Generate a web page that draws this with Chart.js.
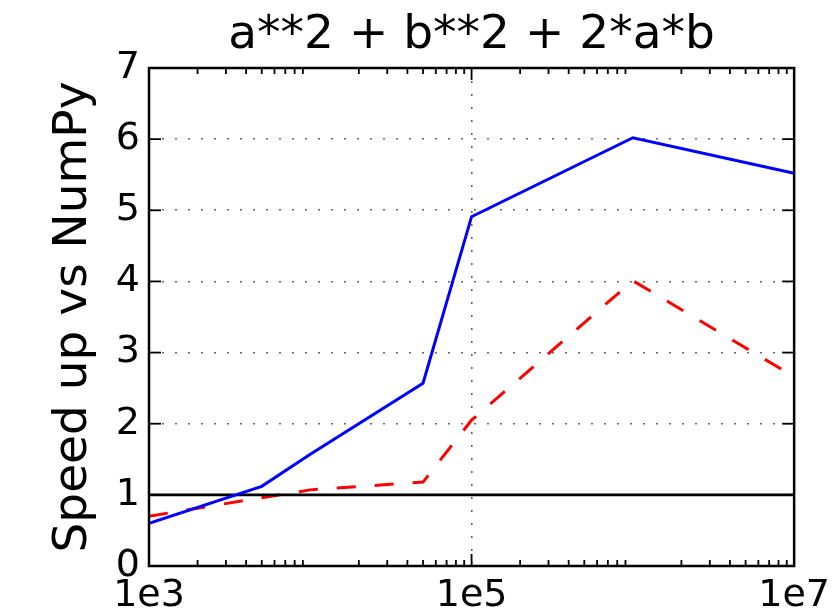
<!DOCTYPE html>
<html><head><meta charset="utf-8">
<script src="https://cdn.jsdelivr.net/npm/chart.js@4.4.1/dist/chart.umd.min.js"></script>
<style>html,body{margin:0;padding:0;background:#fff;} #wrap{width:837px;height:614px;}</style>
</head><body><div id="wrap"><canvas id="c" width="837" height="614"></canvas></div>
<script>
const sizes = [1e3, 5e3, 1e4, 5e4, 1e5, 1e6, 1e7];
const blueSpeedup = [0.60, 1.12, 1.57, 2.57, 4.91, 6.02, 5.52];
const redSpeedup = [0.70, 0.96, 1.07, 1.18, 2.05, 4.01, 2.66];
const refX = [1e3, 1e7];
const refY = [1, 1];
const xTickValues = [1e3, 1e5, 1e7];
const xTickLabels = ['1e3', '1e5', '1e7'];
const yTickValues = [0, 1, 2, 3, 4, 5, 6, 7];
const titleText = 'a**2 + b**2 + 2*a*b';
const yTitle = 'Speed up vs NumPy';

const FONT = 'DejaVu Sans';
const toXY = (xs, ys) => xs.map((v, i) => ({x: v, y: ys[i]}));

const decor = {
  id: 'decor',
  afterDatasetsDraw(chart) {
    const {ctx, chartArea: {left, right, top, bottom}, scales: {x, y}} = chart;
    const line = (x1, y1, x2, y2) => { ctx.beginPath(); ctx.moveTo(x1, y1); ctx.lineTo(x2, y2); ctx.stroke(); };
    ctx.save();
    ctx.strokeStyle = '#000';
    ctx.lineWidth = 1.8;
    yTickValues.forEach(v => {
      const py = y.getPixelForValue(v);
      line(left, py, left + 12, py);
      line(right, py, right - 12, py);
    });
    xTickValues.forEach(v => {
      const px = x.getPixelForValue(v);
      line(px, bottom, px, bottom - 12);
      line(px, top, px, top + 12);
    });
    for (let e = 3; e < 7; e++) {
      for (let m = 2; m <= 9; m++) {
        const px = x.getPixelForValue(m * Math.pow(10, e));
        line(px, bottom, px, bottom - 6);
        line(px, top, px, top + 6);
      }
    }
    ctx.lineWidth = 2.5;
    ctx.strokeRect(left, top, right - left, bottom - top);
    ctx.restore();
  }
};

new Chart(document.getElementById('c'), {
  type: 'line',
  data: {
    datasets: [
      {data: toXY(sizes, blueSpeedup), borderColor: '#0000ff', borderWidth: 3, pointRadius: 0, tension: 0, fill: false},
      {data: toXY(refX, refY), borderColor: '#000000', borderWidth: 2.8, pointRadius: 0, tension: 0, fill: false},
      {data: toXY(sizes, redSpeedup), borderColor: '#ff0000', borderWidth: 3, borderDash: [19, 19], pointRadius: 0, tension: 0, fill: false}
    ]
  },
  options: {
    responsive: false,
    animation: false,
    devicePixelRatio: 1,
    layout: {padding: {left: 0, right: 42, top: 0, bottom: 0}},
    plugins: {
      legend: {display: false},
      tooltip: {enabled: false},
      title: {
        display: true, text: titleText, fullSize: false,
        font: {family: FONT, size: 47, weight: 'normal'}, color: '#000',
        padding: {top: 8, bottom: 3.6}
      }
    },
    scales: {
      x: {
        type: 'logarithmic', position: 'bottom', min: 1e3, max: 1e7,
        afterBuildTicks(s) { s.ticks = xTickValues.map(v => ({value: v})); },
        afterFit(s) { s.height = 48; },
        ticks: {
          font: {family: FONT, size: 38}, color: '#000', maxRotation: 0, minRotation: 0, autoSkip: false, padding: 7,
          callback: (v, i) => xTickLabels[i]
        },
        grid: {drawTicks: false, color: 'rgba(0,0,0,0.6)', lineWidth: 1.6},
        border: {display: false, dash: [2, 11]}
      },
      y: {
        type: 'linear', min: 0, max: 7,
        afterBuildTicks(s) { s.ticks = yTickValues.map(v => ({value: v})); },
        afterFit(s) { s.width = 149; },
        ticks: {font: {family: FONT, size: 38}, color: '#000', padding: 9, callback: v => String(v)},
        grid: {drawTicks: false, color: 'rgba(0,0,0,0.6)', lineWidth: 1.6},
        border: {display: false, dash: [2, 11]},
        title: {display: true, text: yTitle, color: '#000', font: {family: FONT, size: 47}, padding: {top: 46, bottom: 0}}
      }
    }
  },
  plugins: [decor]
});
</script>
</body></html>
